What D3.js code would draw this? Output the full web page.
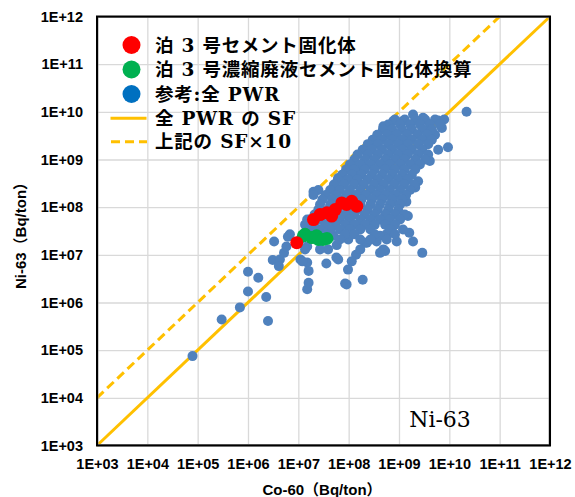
<!DOCTYPE html>
<html>
<head>
<meta charset="utf-8">
<script src="https://cdn.jsdelivr.net/npm/d3@7"></script>
<style>
body { margin: 0; background: #fff; }
svg { display: block; }
.axis text { font-family: "Liberation Sans", Arial, sans-serif; font-weight: bold; font-size: 14.5px; fill: #000; }
.grid line { stroke: #d9d9d9; stroke-width: 1.3; }
</style>
</head>
<body>
<svg width="575" height="497"></svg>
<script>
// decade ticks used on both axes
var tickVals = [1e3, 1e4, 1e5, 1e6, 1e7, 1e8, 1e9, 1e10, 1e11, 1e12];

// [Co-60, Ni-63] in Bq/ton
var tomariCement = [
    [9.3e6, 1.8e7], [2.0e7, 5.5e7], [2.7e7, 7.0e7], [3.7e7, 7.6e7], [4.6e7, 6.5e7],
    [5.4e7, 8.9e7], [7.3e7, 1.23e8], [9.1e7, 1.14e8], [1.15e8, 1.33e8], [1.45e8, 1.05e8]
];
var tomariConcentrate = [
    [1.26e7, 2.5e7], [1.36e7, 2.7e7], [1.85e7, 2.3e7], [2.3e7, 2.5e7],
    [2.5e7, 2.1e7], [3.1e7, 2.1e7], [3.7e7, 2.2e7]
];
var pwrAll = [
    [7.9e4, 7.5e4], [3.0e5, 4.4e5], [6.9e5, 7.9e5], [1.0e6, 1.7e6], [1.0e6, 4.4e6], [1.6e6, 3.3e6],
    [2.3e6, 1.3e6], [2.5e6, 4.1e5], [3.3e6, 1.9e7], [3.1e6, 7.8e6], [4.3e6, 8.0e6], [4.1e6, 5.8e6],
    [5.2e6, 1.1e7], [5.8e6, 1.5e7], [6.8e6, 2.7e7], [6.2e6, 2.4e7], [1.5e7, 6.9e6], [1.6e7, 4.6e6],
    [1.5e7, 1.9e6], [3.6e7, 6.6e6], [1.6e7, 2.6e6], [5.7e7, 8.8e6], [8.5e7, 2.5e6], [9.7e7, 4.9e6],
    [1.9e8, 3.0e6], [1.4e8, 1.0e7], [2.3e8, 1.8e7], [3.6e8, 1.9e7], [5.3e8, 1.2e7], [5.6e8, 2.7e7],
    [7.6e8, 2.9e7], [1.5e9, 6.5e7], [1.9e9, 1.9e7], [2.9e9, 1.1e7], [1.6e9, 2.9e7], [2.0e7, 2.1e8],
    [2.5e7, 2.3e8], [2.2e10, 1.0e10], [9.4e9, 1.8e9], [6.0e9, 1.6e9], [4.1e9, 9.3e8], [2.4e9, 3.5e8],
    [2.1e9, 2.6e8], [1.4e9, 1.3e8], [7.6e8, 1.3e8],
    [6.2e7, 4.1e8], [5.4e7, 2.7e8], [1.15e8, 7.9e8], [1.45e8, 5.3e8], [2.1e8, 7.2e8], [1.8e8, 4.3e7],
    [2.7e8, 5.1e7], [4.2e8, 2.5e7], [5.7e8, 2.1e7], [9.0e8, 1.9e7], [4.9e8, 1.3e7], [2.1e8, 1.8e7],
    [9.8e7, 2.1e7], [5.8e7, 1.6e7], [3.9e7, 1.3e7], [6.2e7, 8.0e6], [1.15e8, 7.3e6], [4.2e8, 1.1e7],
    [1.1e7, 8.0e6], [1.5e7, 1.5e7], [5.0e7, 2.5e7], [1.2e9, 3.4e7], [2.0e7, 1.8e8], [1.5e7, 5.5e7],
    [1.2e7, 7.3e6], [9.1e7, 2.4e6],
    [4.9e8, 5.0e9], [7.7e8, 6.4e9], [1.2e9, 6.4e9], [1.9e9, 8.8e9], [3.0e9, 7.5e9], [6.0e9, 6.6e9],
    [7.1e9, 4.6e9], [5.2e9, 3.3e9], [3.1e8, 2.1e9], [2.0e8, 1.6e9],
    [8.3e8, 6.9e9], [1.3e9, 6.9e9], [2.1e9, 6.9e9], [3.3e9, 6.9e9], [5.2e9, 6.9e9], [7.9e9, 6.9e9],
    [6.1e8, 5.4e9], [1.05e9, 5.4e9], [1.66e9, 5.4e9], [2.6e9, 5.4e9], [4.1e9, 5.4e9], [6.5e9, 5.4e9],
    [4.8e8, 4.3e9], [7.3e8, 4.3e9], [1.15e9, 4.3e9], [1.8e9, 4.3e9], [2.9e9, 4.3e9], [4.5e9, 4.3e9],
    [3.7e8, 3.3e9], [5.8e8, 3.3e9], [9.1e8, 3.3e9], [1.44e9, 3.3e9], [2.3e9, 3.3e9], [3.6e9, 3.3e9],
    [3.0e8, 2.6e9], [4.6e8, 2.6e9], [7.3e8, 2.6e9], [1.15e9, 2.6e9], [1.8e9, 2.6e9], [2.9e9, 2.6e9], [4.5e9, 2.6e9],
    [2.4e8, 2.1e9], [3.8e8, 2.1e9], [6.1e8, 2.1e9], [9.6e8, 2.1e9], [1.5e9, 2.1e9], [2.4e9, 2.1e9], [3.8e9, 2.1e9],
    [1.9e8, 1.6e9], [2.9e8, 1.6e9], [4.6e8, 1.6e9], [7.3e8, 1.6e9], [1.15e9, 1.6e9], [1.8e9, 1.6e9], [2.9e9, 1.6e9],
    [1.5e8, 1.27e9], [2.4e8, 1.27e9], [3.8e8, 1.27e9], [6.1e8, 1.27e9], [9.6e8, 1.27e9], [1.5e9, 1.27e9], [2.4e9, 1.27e9], [3.8e9, 1.27e9],
    [1.3e8, 1.0e9], [2.1e8, 1.0e9], [3.3e8, 1.0e9], [5.3e8, 1.0e9], [8.3e8, 1.0e9], [1.3e9, 1.0e9], [2.1e9, 1.0e9], [3.3e9, 1.0e9],
    [1.06e8, 7.9e8], [1.7e8, 7.9e8], [2.7e8, 7.9e8], [4.2e8, 7.9e8], [6.6e8, 7.9e8], [1.05e9, 7.9e8], [1.66e9, 7.9e8], [2.6e9, 7.9e8],
    [8.9e7, 6.2e8], [1.3e8, 6.2e8], [2.1e8, 6.2e8], [3.3e8, 6.2e8], [5.3e8, 6.2e8], [8.3e8, 6.2e8], [1.3e9, 6.2e8], [2.1e9, 6.2e8],
    [7.4e7, 4.8e8], [1.17e8, 4.8e8], [1.8e8, 4.8e8], [2.9e8, 4.8e8], [4.6e8, 4.8e8], [7.3e8, 4.8e8], [1.15e9, 4.8e8], [1.8e9, 4.8e8],
    [6.1e7, 3.8e8], [9.7e7, 3.8e8], [1.5e8, 3.8e8], [2.4e8, 3.8e8], [3.8e8, 3.8e8], [6.1e8, 3.8e8], [9.6e8, 3.8e8], [1.5e9, 3.8e8],
    [5.1e7, 3.0e8], [8.1e7, 3.0e8], [1.28e8, 3.0e8], [2.0e8, 3.0e8], [3.2e8, 3.0e8], [5.0e8, 3.0e8], [8.0e8, 3.0e8], [1.26e9, 3.0e8], [2.0e9, 3.0e8],
    [4.3e7, 2.3e8], [6.7e7, 2.3e8], [1.06e8, 2.3e8], [1.7e8, 2.3e8], [2.7e8, 2.3e8], [4.2e8, 2.3e8], [6.6e8, 2.3e8], [1.05e9, 2.3e8], [1.66e9, 2.3e8],
    [3.5e7, 1.8e8], [5.6e7, 1.8e8], [8.9e7, 1.8e8], [1.4e8, 1.8e8], [2.2e8, 1.8e8], [3.5e8, 1.8e8], [5.5e8, 1.8e8], [8.7e8, 1.8e8], [1.38e9, 1.8e8],
    [3.0e7, 1.45e8], [4.7e7, 1.45e8], [7.4e7, 1.45e8], [1.17e8, 1.45e8], [1.8e8, 1.45e8], [2.9e8, 1.45e8], [4.6e8, 1.45e8], [7.3e8, 1.45e8], [1.15e9, 1.45e8],
    [2.7e7, 1.14e8], [4.3e7, 1.14e8], [6.7e7, 1.14e8], [1.06e8, 1.14e8], [1.7e8, 1.14e8], [2.7e8, 1.14e8], [4.2e8, 1.14e8], [6.6e8, 1.14e8], [1.05e9, 1.14e8],
    [2.5e7, 8.9e7], [3.9e7, 8.9e7], [6.1e7, 8.9e7], [9.7e7, 8.9e7], [1.5e8, 8.9e7], [2.4e8, 8.9e7], [3.8e8, 8.9e7], [6.1e8, 8.9e7], [9.6e8, 8.9e7],
    [2.1e7, 7.0e7], [3.4e7, 7.0e7], [5.4e7, 7.0e7], [8.5e7, 7.0e7], [1.3e8, 7.0e7], [2.1e8, 7.0e7], [3.3e8, 7.0e7], [5.3e8, 7.0e7], [8.3e8, 7.0e7], [1.3e9, 7.0e7],
    [1.7e7, 5.5e7], [2.7e7, 5.5e7], [4.3e7, 5.5e7], [6.7e7, 5.5e7], [1.06e8, 5.5e7], [1.7e8, 5.5e7], [2.7e8, 5.5e7], [4.2e8, 5.5e7], [6.6e8, 5.5e7], [1.05e9, 5.5e7],
    [1.36e7, 4.3e7], [2.1e7, 4.3e7], [3.4e7, 4.3e7], [5.4e7, 4.3e7], [8.5e7, 4.3e7], [1.3e8, 4.3e7], [2.1e8, 4.3e7], [3.3e8, 4.3e7], [5.3e8, 4.3e7], [8.3e8, 4.3e7],
    [1.7e7, 3.4e7], [2.7e7, 3.4e7], [4.3e7, 3.4e7], [6.7e7, 3.4e7], [1.06e8, 3.4e7], [1.7e8, 3.4e7], [2.7e8, 3.4e7], [6.6e8, 3.4e7],
    [1.36e7, 2.7e7], [2.1e7, 2.7e7], [3.4e7, 2.7e7], [8.5e7, 2.7e7], [1.3e8, 2.7e7], [3.3e8, 2.7e7], [8.3e8, 2.7e7],
    [1.1e7, 2.1e7], [2.7e7, 2.1e7], [6.7e7, 2.1e7], [1.7e8, 2.1e7], [2.7e8, 2.1e7],
    [1.36e7, 1.3e7], [2.7e7, 1.3e7], [1.7e8, 1.3e7]
];
// reference lines
var sfLine = [[1e3, 1e3], [1e12, 1e12]];
var sf10Line = [[1e3, 1e4], [1e11, 1e12]];

var legendLabels = ["泊 3 号セメント固化体", "泊 3 号濃縮廃液セメント固化体換算", "参考:全 PWR", "全 PWR の SF", "上記の SF×10"];

var drawChart = function() {
    let svg = d3.select("svg");

    let margin = { top: 16.5, right: 25, bottom: 51.5, left: 97 };
    let plotWidth = 575 - margin.left - margin.right;
    let plotHeight = 497 - margin.top - margin.bottom;

    let xScale = d3.scaleLog().domain([1e3, 1e12]).range([0, plotWidth]);
    let yScale = d3.scaleLog().domain([1e3, 1e12]).range([plotHeight, 0]);

    let fmt = function(d) {
        let e = Math.round(Math.log10(d));
        return "1E+" + (e < 10 ? "0" + e : e);
    };

    let plot = svg.append("g")
        .attr("id", "plot")
        .attr("transform", "translate(" + margin.left + "," + margin.top + ")");

    // gridlines
    let gx = plot.append("g").attr("class", "grid")
        .attr("transform", "translate(0," + plotHeight + ")")
        .call(d3.axisBottom(xScale).tickValues(tickVals).tickSize(-plotHeight).tickFormat(""));
    let gy = plot.append("g").attr("class", "grid")
        .call(d3.axisLeft(yScale).tickValues(tickVals).tickSize(-plotWidth).tickFormat(""));
    gx.select(".domain").remove();
    gy.select(".domain").remove();

    // axes labels
    let xGroup = plot.append("g").attr("class", "axis")
        .attr("transform", "translate(0," + plotHeight + ")")
        .call(d3.axisBottom(xScale).tickValues(tickVals).tickSize(0).tickPadding(13).tickFormat(fmt));
    let yGroup = plot.append("g").attr("class", "axis")
        .call(d3.axisLeft(yScale).tickValues(tickVals).tickSize(0).tickPadding(14).tickFormat(fmt));
    xGroup.select(".domain").remove();
    yGroup.select(".domain").remove();

    // reference lines
    let line = d3.line()
        .x(function(d) { return xScale(d[0]); })
        .y(function(d) { return yScale(d[1]); });

    plot.append("path").datum(sfLine)
        .attr("d", line)
        .attr("fill", "none")
        .attr("stroke", "#FFC000")
        .attr("stroke-width", 3);
    plot.append("path").datum(sf10Line)
        .attr("d", line)
        .attr("fill", "none")
        .attr("stroke", "#FFC000")
        .attr("stroke-width", 3)
        .attr("stroke-dasharray", "9,5");

    // points
    plot.selectAll("circle.pwr")
        .data(pwrAll).enter().append("circle")
        .attr("class", "pwr")
        .attr("cx", function(d) { return xScale(d[0]); })
        .attr("cy", function(d) { return yScale(d[1]); })
        .attr("r", 5)
        .attr("fill", "#4F81BD");

    plot.selectAll("circle.conc")
        .data(tomariConcentrate).enter().append("circle")
        .attr("class", "conc")
        .attr("cx", function(d) { return xScale(d[0]); })
        .attr("cy", function(d) { return yScale(d[1]); })
        .attr("r", 6.5)
        .attr("fill", "#00B050");

    plot.selectAll("circle.cem")
        .data(tomariCement).enter().append("circle")
        .attr("class", "cem")
        .attr("cx", function(d) { return xScale(d[0]); })
        .attr("cy", function(d) { return yScale(d[1]); })
        .attr("r", 6.5)
        .attr("fill", "#FF0000");

    // frame
    plot.append("rect")
        .attr("x", 1).attr("y", 1)
        .attr("width", plotWidth - 2).attr("height", plotHeight - 2)
        .attr("fill", "none").attr("stroke", "#999").attr("stroke-width", 1);
    plot.append("rect")
        .attr("x", 0).attr("y", 0)
        .attr("width", plotWidth).attr("height", plotHeight)
        .attr("fill", "none").attr("stroke", "#000").attr("stroke-width", 2);

    // legend
    let legendY = [45, 69.5, 94, 118.3, 141.7];
    let legendColors = ["#FF0000", "#00B050", "#0070C0"];
    let legend = svg.append("g").attr("id", "legend");
    legendColors.forEach(function(c, i) {
        legend.append("circle")
            .attr("cx", 131.5).attr("cy", legendY[i]).attr("r", 9)
            .attr("fill", c);
    });
    legend.append("line")
        .attr("x1", 110.5).attr("x2", 146.5)
        .attr("y1", legendY[3]).attr("y2", legendY[3])
        .attr("stroke", "#FFC000").attr("stroke-width", 3);
    legend.append("line")
        .attr("x1", 111).attr("x2", 147)
        .attr("y1", legendY[4]).attr("y2", legendY[4])
        .attr("stroke", "#FFC000").attr("stroke-width", 3)
        .attr("stroke-dasharray", "9,5");
    legend.selectAll("text")
        .data(legendLabels).enter().append("text")
        .attr("x", 155)
        .attr("y", function(d, i) { return legendY[i]; })
        .attr("dy", "0.36em")
        .style("font-family", "'DejaVu Serif', 'Noto Sans CJK JP', serif")
        .style("font-weight", "bold")
        .style("font-size", "18.5px")
        .style("letter-spacing", "0.8px")
        .text(function(d) { return d; });

    // nuclide label
    svg.append("text")
        .attr("x", 440).attr("y", 426.5)
        .attr("text-anchor", "middle")
        .style("font-family", "'DejaVu Serif', serif")
        .style("font-size", "22px")
        .text("Ni-63");

    // axis titles
    svg.append("text")
        .attr("transform", "translate(26,232) rotate(-90)")
        .attr("text-anchor", "middle")
        .style("font-family", "'Liberation Sans', 'Noto Sans CJK JP', sans-serif")
        .style("font-weight", "bold")
        .style("font-size", "15px")
        .text("Ni-63（Bq/ton）");

    svg.append("text")
        .attr("x", 322).attr("y", 495)
        .attr("text-anchor", "middle")
        .style("font-family", "'Liberation Sans', 'Noto Sans CJK JP', sans-serif")
        .style("font-weight", "bold")
        .style("font-size", "15px")
        .text("Co-60（Bq/ton）");
};

drawChart();
</script>
</body>
</html>
